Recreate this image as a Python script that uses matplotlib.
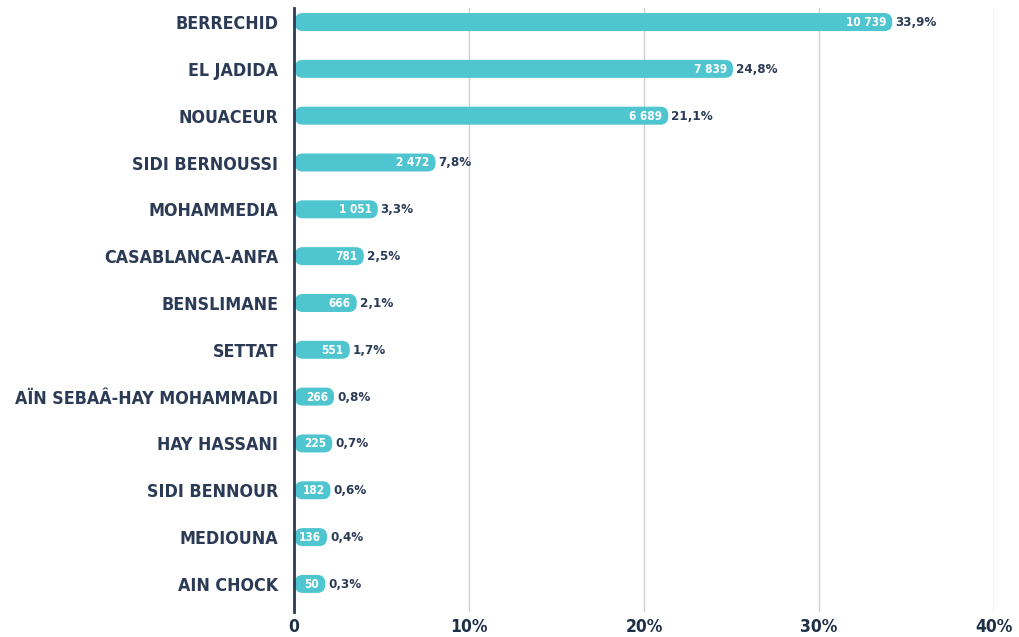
import matplotlib.pyplot as plt
from matplotlib.patches import FancyBboxPatch

# data
provinces = ["BERRECHID", "EL JADIDA", "NOUACEUR", "SIDI BERNOUSSI", "MOHAMMEDIA",
             "CASABLANCA-ANFA", "BENSLIMANE", "SETTAT", "AÏN SEBAÂ-HAY MOHAMMADI",
             "HAY HASSANI", "SIDI BENNOUR", "MEDIOUNA", "AIN CHOCK"]
counts = [10739, 7839, 6689, 2472, 1051, 781, 666, 551, 266, 225, 182, 136, 50]
shares = [33.9, 24.8, 21.1, 7.8, 3.3, 2.5, 2.1, 1.7, 0.8, 0.7, 0.6, 0.4, 0.3]
xticks = [0, 10, 20, 30, 40]

teal = "#4fc5d0"
navy = "#2b3a55"
plt.rcParams['font.family'] = ["DejaVu Sans"]
font = dict(fontweight="bold", fontstretch="condensed")

fig = plt.figure(figsize=(10.2, 6.37), dpi=100)
ax = fig.add_axes([294/1020, 1 - 612/637, 700/1020, (612 - 8)/637])
ax.set_xlim(0, 40)
n = len(provinces)
ax.set_ylim(n - 0.4, -0.3)

# pixel <-> data conversions
px_x = 700 / 40
px_y = 604 / (n - 0.4 + 0.3)
r_x = 8 / px_x
aspect = px_x / px_y
bar_h = 18 / px_y

for i, (c, s) in enumerate(zip(counts, shares)):
    # short bars get extra room so the count fits inside
    w = s + (26 if s * px_x < 100 else 5) / px_x
    p = FancyBboxPatch((0.05, i - bar_h / 2), w - 0.05, bar_h,
                       boxstyle=f"round,pad=0,rounding_size={r_x}",
                       mutation_aspect=aspect, fc=teal, ec="none", zorder=3)
    ax.add_patch(p)
    lab = f"{c:,}".replace(",", " ")
    ax.text(w - 6 / px_x, i + 0.01, lab, ha="right", va="center", color="white",
            fontsize=8.5, zorder=4, **font)
    ax.text(w + 3 / px_x, i + 0.01, f"{s:.1f}%".replace(".", ","), ha="left",
            va="center", color=navy, fontsize=9.5, zorder=4, **font)

ax.set_yticks(range(n))
ax.set_yticklabels(provinces, fontsize=12.8, color=navy, **font)
ax.set_xticks(xticks)
ax.set_xticklabels([f"{t}%" if t else "0" for t in xticks], fontsize=12.5,
                   color="#1e2f48", **font)
ax.tick_params(length=0)
ax.tick_params(axis="y", pad=11.5)
ax.tick_params(axis="x", pad=4)
ax.grid(axis="x", color="#cfcfd4", linewidth=1)
ax.set_axisbelow(True)
for sp in ["top", "right", "bottom"]:
    ax.spines[sp].set_visible(False)
ax.spines["left"].set_color(navy)
ax.spines["left"].set_linewidth(2)
ax.spines["left"].set_zorder(5)

fig.savefig("out.png", dpi=100)
